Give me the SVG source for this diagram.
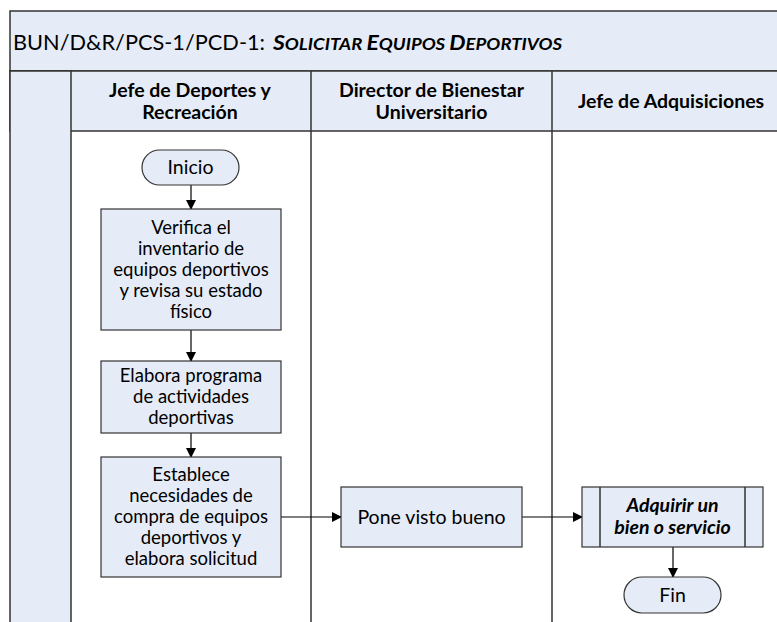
<svg xmlns="http://www.w3.org/2000/svg" width="777" height="622" viewBox="0 0 777 622">
<defs>
<marker id="arr" markerWidth="10" markerHeight="10" refX="9" refY="5" orient="auto" markerUnits="userSpaceOnUse">
<path d="M0,0 L10,5 L0,10 Z" fill="#000"/>
</marker>
<style>
.bg{fill:#e6ecf7;stroke:#333;stroke-width:1.5}
.ln{stroke:#333;stroke-width:1.5;fill:none}
.box{fill:#e6ecf7;stroke:#333;stroke-width:1.2}
.t{font-family:Lato,"Open Sans",sans-serif;font-size:19.5px;fill:#000;text-anchor:middle}
.m{font-size:18.5px}
.h{font-family:Lato,"Open Sans",sans-serif;font-size:19.5px;font-weight:bold;fill:#000;text-anchor:middle}
.c{stroke:#000;stroke-width:1.2;fill:none;marker-end:url(#arr)}
.ti{font-family:Lato,"Open Sans",sans-serif;font-size:21px;fill:#000}
</style>
</defs>
<rect width="777" height="622" fill="#fff"/>
<g id="frame">
<rect class="bg" x="10" y="11" width="780" height="60"/>
<rect class="bg" x="10" y="71" width="780" height="60"/>
<rect class="bg" x="10" y="71" width="61" height="560"/>
<line class="ln" x1="311" y1="71" x2="311" y2="622"/>
<line class="ln" x1="552" y1="71" x2="552" y2="622"/>
<text class="ti" x="13" y="50" textLength="252" lengthAdjust="spacingAndGlyphs">BUN/D&amp;R/PCS-1/PCD-1:</text>
<text class="ti" x="273" y="50" font-weight="bold" font-style="italic" textLength="289" lengthAdjust="spacingAndGlyphs">S<tspan font-size="17">OLICITAR </tspan>E<tspan font-size="17">QUIPOS </tspan>D<tspan font-size="17">EPORTIVOS</tspan></text>
<text class="h" x="190" y="96.5">Jefe de Deportes y<tspan x="190" dy="22.5">Recreación</tspan></text>
<text class="h" x="431.5" y="96.5">Director de Bienestar<tspan x="431.5" dy="22.5">Universitario</tspan></text>
<text class="h" x="671" y="108">Jefe de Adquisiciones</text>
</g>
<g id="connectors">
<line class="c" x1="191" y1="185" x2="191" y2="209"/>
<line class="c" x1="191" y1="330" x2="191" y2="361"/>
<line class="c" x1="191" y1="433" x2="191" y2="457"/>
<line class="c" x1="281" y1="517" x2="341" y2="517"/>
<line class="c" x1="522" y1="517" x2="582" y2="517"/>
<line class="c" x1="673" y1="547" x2="673" y2="577"/>
</g>
<g id="inicio">
<rect class="box" x="142" y="150" width="97" height="35" rx="17.5"/>
<text class="t" x="190.5" y="174">Inicio</text>
</g>
<g id="verifica">
<rect class="box" x="101" y="209" width="180" height="121"/>
<text class="t m" x="191" y="233.5">Verifica el<tspan x="191" dy="21">inventario de</tspan><tspan x="191" dy="21">equipos deportivos</tspan><tspan x="191" dy="21">y revisa su estado</tspan><tspan x="191" dy="21">físico</tspan></text>
</g>
<g id="elabora">
<rect class="box" x="101" y="361" width="180" height="72"/>
<text class="t m" x="191" y="382">Elabora programa<tspan x="191" dy="21">de actividades</tspan><tspan x="191" dy="21">deportivas</tspan></text>
</g>
<g id="establece">
<rect class="box" x="101" y="457" width="180" height="120"/>
<text class="t m" x="191" y="481">Establece<tspan x="191" dy="21">necesidades de</tspan><tspan x="191" dy="21">compra de equipos</tspan><tspan x="191" dy="21">deportivos y</tspan><tspan x="191" dy="21">elabora solicitud</tspan></text>
</g>
<g id="pone">
<rect class="box" x="341" y="487" width="181" height="60"/>
<text class="t" x="431.5" y="523.5">Pone visto bueno</text>
</g>
<g id="adquirir">
<rect class="box" x="582" y="487" width="181" height="60"/>
<line class="ln" x1="600" y1="487" x2="600" y2="547" stroke-width="1.2"/>
<line class="ln" x1="745" y1="487" x2="745" y2="547" stroke-width="1.2"/>
<text class="t" x="672.5" y="512" font-weight="bold" font-style="italic">Adquirir un<tspan x="672.5" dy="22">bien o servicio</tspan></text>
</g>
<g id="fin">
<rect class="box" x="624" y="577" width="97" height="36" rx="18"/>
<text class="t" x="672.5" y="601.5">Fin</text>
</g>
</svg>
